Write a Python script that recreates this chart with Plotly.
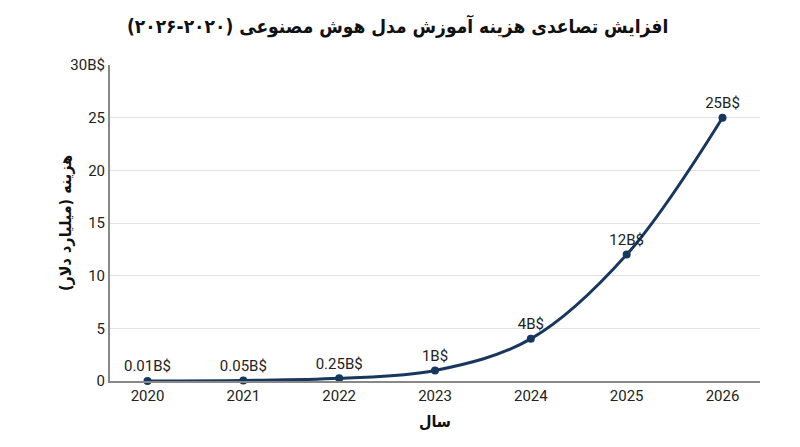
import plotly.graph_objects as go

years = ["2020", "2021", "2022", "2023", "2024", "2025", "2026"]
cost = [0.01, 0.05, 0.25, 1, 4, 12, 25]
cost_labels = ["0.01B$", "0.05B$", "0.25B$", "1B$", "4B$", "12B$", "25B$"]
y_ticks = [0, 5, 10, 15, 20, 25, 30]
y_tick_text = ["0", "5", "10", "15", "20", "25", "30B$"]

navy = "#17375e"
font_main = "Roboto, 'DejaVu Sans', sans-serif"
font_fa = "'DejaVu Sans Condensed', 'DejaVu Sans', sans-serif"

fig = go.Figure()
fig.add_trace(go.Scatter(
    x=years,
    y=cost,
    mode="lines+markers+text",
    line=dict(color=navy, width=3, shape="spline", smoothing=1.0),
    marker=dict(color=navy, size=8),
    text=cost_labels,
    textposition="top center",
    textfont=dict(family=font_main, size=15, color="#222"),
    cliponaxis=False,
    showlegend=False,
))

# y title as an annotation so it sits close to the short tick labels, like the original
fig.add_annotation(
    text="<b>هزینه (میلیارد دلار)</b>",
    xref="paper", yref="paper", x=0, y=0.5,
    xanchor="center", yanchor="middle", xshift=-45,
    textangle=-90, showarrow=False,
    font=dict(family=font_fa, size=16, color="#111"),
)

fig.update_layout(
    width=800,
    height=447,
    paper_bgcolor="white",
    plot_bgcolor="white",
    margin=dict(l=102, r=48, t=57, b=74),
    title=dict(
        text="<b>افزایش تصاعدی هزینه آموزش مدل هوش مصنوعی (۲۰۲۰-۲۰۲۶)</b>",
        x=0.487, xanchor="center", y=0.96, yanchor="middle",
        font=dict(family=font_fa, size=19, color="#111"),
    ),
    xaxis=dict(
        type="category",
        showgrid=False,
        showline=True, linecolor="#888", linewidth=2,
        ticks="", tickfont=dict(family=font_main, size=15, color="#222"),
        title=dict(text="<b>سال</b>", font=dict(family=font_fa, size=16, color="#111"), standoff=12),
    ),
    yaxis=dict(
        range=[0, 30],
        tickvals=y_ticks, ticktext=y_tick_text,
        showgrid=True, gridcolor="#e3e3e3", gridwidth=1,
        showline=True, linecolor="#888", linewidth=2,
        zeroline=False,
        ticks="", tickfont=dict(family=font_main, size=15, color="#222"),
    ),
)

fig.write_html("out.html")
